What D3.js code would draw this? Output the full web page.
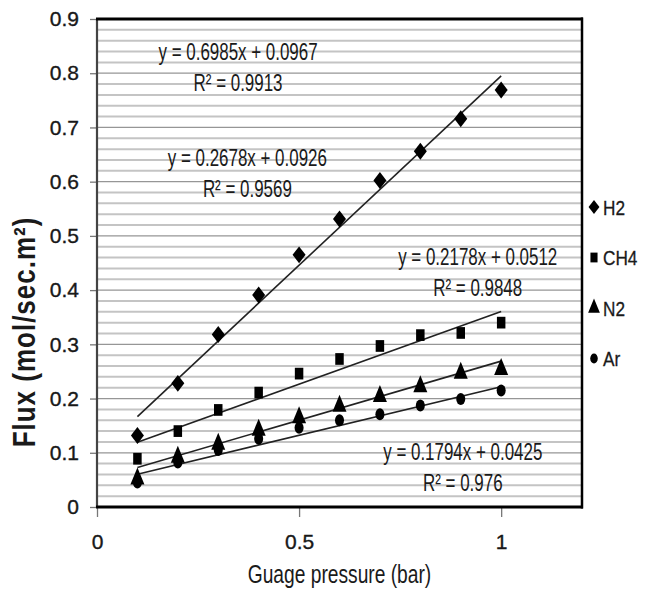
<!DOCTYPE html>
<html lang="en">
<head>
  <meta charset="UTF-8">
  <title>Flux vs gauge pressure</title>
  <script src="https://d3js.org/d3.v7.min.js"></script>
  <style>
    body { margin: 0; background: #fff; }
    svg { display: block; }
    text { font-family: "Liberation Sans", Arial, sans-serif; fill: #1a1a1a; }
  </style>
</head>
<body>
  <div id="chart"></div>

  <script>
    // data
    const pressure = [0.1, 0.2, 0.3, 0.4, 0.5, 0.6, 0.7, 0.8, 0.9, 1.0];
    const h2  = [0.132, 0.228, 0.318, 0.391, 0.465, 0.531, 0.602, 0.656, 0.716, 0.769];
    const ch4 = [0.089, 0.140, 0.179, 0.211, 0.246, 0.273, 0.297, 0.317, 0.321, 0.340];
    const n2  = [0.052, 0.092, 0.116, 0.142, 0.165, 0.186, 0.204, 0.222, 0.247, 0.254];
    const ar  = [0.045, 0.082, 0.105, 0.126, 0.146, 0.160, 0.171, 0.187, 0.199, 0.215];

    const gasNames = ["H2", "CH4", "N2", "Ar"];
    const slopes = [0.6985, 0.2678, 0.2178, 0.1794];
    const intercepts = [0.0967, 0.0926, 0.0512, 0.0425];
    const r2 = ["0.9913", "0.9569", "0.9848", "0.976"];
    // where each equation sits, in chart units (x, y of the first line)
    const eqX = [0.349, 0.372, 0.942, 0.905];
    const eqY = [0.824, 0.628, 0.446, 0.086];

    const xTicks = [0, 0.5, 1];
    const yTicks = d3.range(0, 0.91, 0.1);
    const yMinor = d3.range(0.02, 0.9, 0.02);

    const W = 652, H = 593;
    const margin = { top: 19, right: 70, bottom: 86, left: 97 };
    const width = W - margin.left - margin.right;
    const height = H - margin.top - margin.bottom;

    const x = d3.scaleLinear().domain([0, 1.2]).range([0, width]);
    const y = d3.scaleLinear().domain([0, 0.9]).range([height, 0]);

    // no condensed font here, so squeeze regular text the way the original looks
    function squeeze(sel, sx, sy) {
      sel.each(function () {
        const t = d3.select(this);
        const tx = +t.attr("x") || 0, ty = +t.attr("y") || 0;
        t.attr("x", 0).attr("y", 0)
          .attr("transform", `translate(${tx},${ty}) scale(${sx},${sy})`);
      });
    }

    const svg = d3.select("#chart").append("svg")
      .attr("width", W)
      .attr("height", H);

    const g = svg.append("g")
      .attr("transform", `translate(${margin.left},${margin.top})`);

    // gridlines: light minor every 0.02, darker major every 0.1
    g.selectAll(".minor")
      .data(yMinor.filter(v => Math.abs(v * 10 - Math.round(v * 10)) > 1e-6))
      .enter().append("line")
      .attr("x1", 0).attr("x2", width)
      .attr("y1", d => y(d)).attr("y2", d => y(d))
      .attr("stroke", "#c4c4c4")
      .attr("stroke-width", 2);

    g.selectAll(".major")
      .data(yTicks.slice(1, -1))
      .enter().append("line")
      .attr("x1", 0).attr("x2", width)
      .attr("y1", d => y(d)).attr("y2", d => y(d))
      .attr("stroke", "#969696")
      .attr("stroke-width", 1.3);

    // y axis
    const yAxis = g.append("g")
      .call(d3.axisLeft(y).tickValues(yTicks).tickSize(7).tickPadding(11)
        .tickFormat(d => d === 0 ? "0" : d3.format(".1f")(d)));
    yAxis.select(".domain").remove();
    yAxis.selectAll(".tick line").attr("stroke", "#777").attr("stroke-width", 1.3);
    yAxis.selectAll(".tick text")
      .style("font-size", "21px")
      .attr("fill", "#111")
      .attr("stroke", "#111")
      .attr("stroke-width", 0.35);

    // x axis
    const xAxis = g.append("g")
      .attr("transform", `translate(0,${height})`)
      .call(d3.axisBottom(x).tickValues(xTicks).tickSize(10).tickPadding(17)
        .tickFormat(d => d === 0 ? "0" : d3.format("~g")(d)));
    xAxis.select(".domain").remove();
    xAxis.selectAll(".tick line").attr("stroke", "#777").attr("stroke-width", 1.3);
    xAxis.selectAll(".tick text")
      .style("font-size", "21px")
      .attr("fill", "#111")
      .attr("stroke", "#111")
      .attr("stroke-width", 0.35);

    // frame
    g.append("line").attr("x1", 0).attr("x2", 0).attr("y1", 0).attr("y2", height)
      .attr("stroke", "#444").attr("stroke-width", 2.2);
    g.append("line").attr("x1", width).attr("x2", width).attr("y1", -1.5).attr("y2", height + 1.5)
      .attr("stroke", "#000").attr("stroke-width", 2.5);
    g.append("line").attr("x1", -1).attr("x2", width + 1).attr("y1", 0).attr("y2", 0)
      .attr("stroke", "#000").attr("stroke-width", 3);
    g.append("line").attr("x1", -1).attr("x2", width + 1).attr("y1", height).attr("y2", height)
      .attr("stroke", "#000").attr("stroke-width", 3);

    // trend lines
    const trend = g.append("g");
    slopes.forEach((m, i) => {
      const x0 = pressure[0], x1 = pressure[pressure.length - 1];
      trend.append("line")
        .attr("x1", x(x0)).attr("y1", y(m * x0 + intercepts[i]))
        .attr("x2", x(x1)).attr("y2", y(m * x1 + intercepts[i]))
        .attr("stroke", "#222")
        .attr("stroke-width", 1.6);
    });

    // markers (drawn a bit taller than wide, like the original)
    const shapes = [d3.symbolDiamond2, d3.symbolSquare, d3.symbolTriangle, d3.symbolCircle];
    const sizes = [108, 72, 85, 64];
    const stretch = [1.3, 1.38, 1.4, 1.33];
    const series = [h2, ch4, n2, ar];

    series.forEach((vals, i) => {
      g.selectAll(".pt" + i)
        .data(vals)
        .enter().append("path")
        .attr("d", d3.symbol().type(shapes[i]).size(sizes[i]))
        .attr("transform", (d, j) => `translate(${x(pressure[j])},${y(d)}) scale(1,${stretch[i]})`)
        .attr("fill", "#000");
    });

    // equations
    series.forEach((vals, i) => {
      g.append("text")
        .attr("x", x(eqX[i]))
        .attr("y", y(eqY[i]))
        .attr("text-anchor", "middle")
        .style("font-size", "22px")
        .text(`y = ${slopes[i].toFixed(4)}x + ${intercepts[i].toFixed(4)}`)
        .call(squeeze, 0.77, 1.08);
      g.append("text")
        .attr("x", x(eqX[i]))
        .attr("y", y(eqY[i]) + 31)
        .attr("text-anchor", "middle")
        .style("font-size", "22px")
        .text(`R² = ${r2[i]}`)
        .call(squeeze, 0.77, 1.08);
    });

    // legend
    const legend = svg.append("g")
      .attr("transform", `translate(${margin.left + width + 12},207)`);
    gasNames.forEach((name, i) => {
      const row = legend.append("g").attr("transform", `translate(0,${i * 50.5})`);
      row.append("path")
        .attr("d", d3.symbol().type(shapes[i]).size(sizes[i] * 0.7))
        .attr("transform", `scale(1,${stretch[i]})`)
        .attr("fill", "#000");
      row.append("text")
        .attr("x", 9)
        .attr("y", 7.5)
        .style("font-size", "20px")
        .attr("stroke", "#1a1a1a")
        .attr("stroke-width", 0.3)
        .text(name)
        .call(squeeze, 0.86, 1.05);
    });

    // axis titles
    svg.append("text")
      .attr("x", margin.left + x(0.6))
      .attr("y", 583)
      .attr("text-anchor", "middle")
      .style("font-size", "24px")
      .text("Guage pressure (bar)")
      .call(squeeze, 0.8, 1.1);

    svg.append("text")
      .attr("transform", "translate(35,332) rotate(-90) scale(1,1.2)")
      .attr("text-anchor", "middle")
      .style("font-size", "26px")
      .style("font-weight", "bold")
      .style("letter-spacing", "1px")
      .text("Flux (mol/sec.m²)");
  </script>
</body>
</html>
